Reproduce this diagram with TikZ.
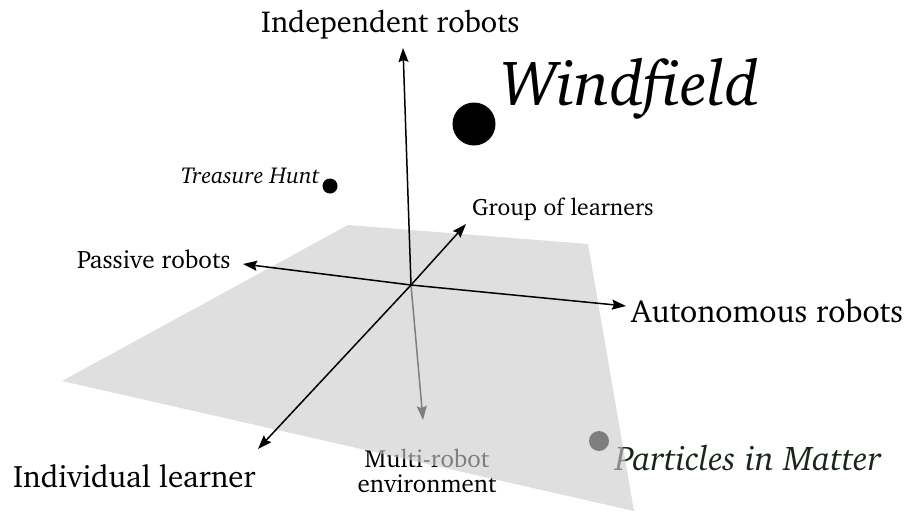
\documentclass[tikz,border=0pt]{standalone}
\usepackage[T1]{fontenc}
\renewcommand{\rmdefault}{bch}
\usepackage{tikz}
\usetikzlibrary{arrows.meta}
\usepackage{xcolor}
\definecolor{leafdark}{rgb}{0.10,0.15,0.10}

\begin{document}
\begin{tikzpicture}[
  x=1pt, y=1pt,
  lbl/.style={inner sep=0pt, anchor=base west},
  big/.style={lbl, font=\fontsize{31}{34}\selectfont},
  sml/.style={lbl, font=\fontsize{24}{27}\selectfont},
  ax/.style={line width=1.5pt, -{Stealth[length=14pt, width=10pt, inset=2pt]}},
  plane/.style={fill=black!20, fill opacity=0.62, draw=none}
]
\useasboundingbox (0,0) rectangle (904,-511);

% ================= axis ends =================
\coordinate (o)    at (411,-285);
\coordinate (top)  at (403,-48);
\coordinate (bot)  at (423,-420);
\coordinate (pas)  at (243,-264);
\coordinate (aut)  at (626,-306);
\coordinate (grp)  at (466,-224);
\coordinate (ind)  at (258,-449);

% ================= below the plane =================
\draw[ax] (o) -- (bot);
\node[lbl, anchor=north, align=center, font=\fontsize{25}{25}\selectfont]
  (multi) at (427,-449) {Multi-robot\\environment};
\fill (599,-441) circle (10) coordinate (pim);
\node[lbl, font=\fontsize{34.3}{37}\selectfont\itshape, text=leafdark]
  (pimtxt) at (615,-470) {Particles in Matter};

% ================= plane =================
\path[plane] (348,-225) -- (588,-244) -- (634,-511) -- (62,-381) -- cycle;

% ================= axes above the plane =================
\draw[ax] (o) -- (top);
\draw[ax] (o) -- (pas);
\draw[ax] (o) -- (aut);
\draw[ax] (o) -- (grp);
\draw[ax] (o) -- (ind);

\node[big, font=\fontsize{30.3}{34}\selectfont] (indep) at (261,-33) {Independent robots};
\node[big, font=\fontsize{31.8}{34}\selectfont] (auton) at (631,-322) {Autonomous robots};
\node[big] (indiv) at (13,-487) {Individual learner};
\node[sml, font=\fontsize{25.2}{27}\selectfont] (passv) at (77,-268) {Passive robots};
\node[sml, font=\fontsize{23.7}{27}\selectfont] (group) at (472,-215) {Group of learners};

% ================= projects =================
\fill (474,-124) circle (21.5) coordinate (wf);
\node[lbl, font=\fontsize{64}{68}\selectfont\itshape] (wftxt) at (500,-105) {Windfield};
\fill (330,-186) circle (7.5) coordinate (th);
\node[lbl, font=\fontsize{23}{26}\selectfont\itshape] (thtxt) at (181,-183) {Treasure Hunt};
\end{tikzpicture}
\end{document}
